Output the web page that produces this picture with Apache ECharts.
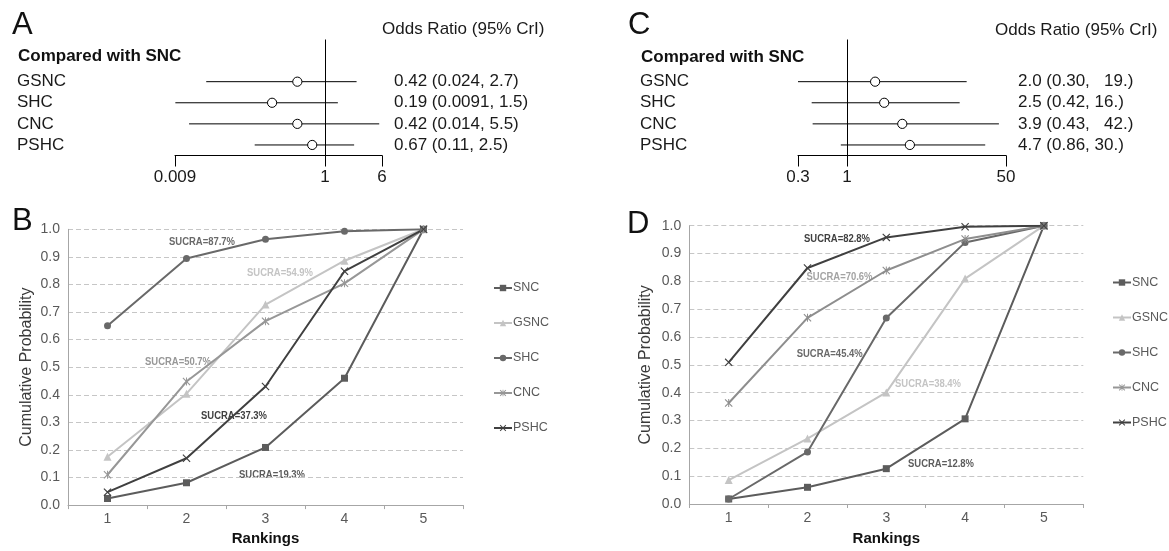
<!DOCTYPE html>
<html>
<head>
<meta charset="utf-8">
<script src="https://cdn.jsdelivr.net/npm/echarts@6/dist/echarts.min.js"></script>
<style>
html,body{margin:0;padding:0;background:#fff;}
#main{width:1169px;height:551px;}
</style>
</head>
<body>
<div id="main"></div>
<script>
// ---------- Data ----------
const forestRows = ['GSNC', 'SHC', 'CNC', 'PSHC'];
// Panel A
const aEst = [0.42, 0.19, 0.42, 0.67];
const aLo = [0.024, 0.0091, 0.014, 0.11];
const aHi = [2.7, 1.5, 5.5, 2.5];
const aText = ['0.42 (0.024, 2.7)', '0.19 (0.0091, 1.5)', '0.42 (0.014, 5.5)', '0.67 (0.11, 2.5)'];
const aTicks = [0.009, 1, 6];
// Panel C
const cEst = [2.0, 2.5, 3.9, 4.7];
const cLo = [0.30, 0.42, 0.43, 0.86];
const cHi = [19, 16, 42, 30];
const cText = ['2.0 (0.30,   19.)', '2.5 (0.42, 16.)', '3.9 (0.43,   42.)', '4.7 (0.86, 30.)'];
const cTicks = [0.3, 1, 50];

// Panels B and D
const ranks = ['1', '2', '3', '4', '5'];
const seriesNames = ['SNC', 'GSNC', 'SHC', 'CNC', 'PSHC'];
const bSNC = [0.024, 0.081, 0.209, 0.46, 1.0];
const bGSNC = [0.175, 0.404, 0.727, 0.886, 1.0];
const bSHC = [0.65, 0.894, 0.964, 0.993, 1.0];
const bCNC = [0.11, 0.448, 0.667, 0.804, 1.0];
const bPSHC = [0.047, 0.17, 0.43, 0.848, 1.0];
const dSNC = [0.018, 0.06, 0.127, 0.306, 1.0];
const dGSNC = [0.086, 0.235, 0.401, 0.81, 1.0];
const dSHC = [0.018, 0.187, 0.668, 0.94, 1.0];
const dCNC = [0.363, 0.669, 0.839, 0.952, 1.0];
const dPSHC = [0.509, 0.848, 0.958, 0.996, 1.0];
const bSucra = ['SUCRA=19.3%', 'SUCRA=54.9%', 'SUCRA=87.7%', 'SUCRA=50.7%', 'SUCRA=37.3%'];
const dSucra = ['SUCRA=12.8%', 'SUCRA=38.4%', 'SUCRA=45.4%', 'SUCRA=70.6%', 'SUCRA=82.8%'];

// ---------- Styles ----------
const FONT = "Arial, 'Liberation Sans', Helvetica, sans-serif";
const xPath = 'path://M0,1L1,0L5,4L9,0L10,1L6,5L10,9L9,10L5,6L1,10L0,9L4,5Z';
const astPath = 'path://M0,1L1,0L5,4L9,0L10,1L6,5L10,9L9,10L5,6L1,10L0,9L4,5ZM4.4,0L5.6,0L5.6,10L4.4,10Z';
const sStyle = {
  SNC:  {color: '#5c5c5c', symbol: 'rect', size: 7},
  GSNC: {color: '#c4c4c4', symbol: 'triangle', size: 8},
  SHC:  {color: '#696969', symbol: 'circle', size: 7},
  CNC:  {color: '#979797', symbol: astPath, size: 8},
  PSHC: {color: '#404040', symbol: xPath, size: 8}
};
const dCNCColor = '#8e8e8e';

const log10 = Math.log10;
function fmtTick(v) { return String(+Math.pow(10, v).toPrecision(3)); }

function forestSeries(gridIdx, est, lo, hi, text) {
  const data = est.map((e, i) => [log10(e), i + 1, log10(lo[i]), log10(hi[i]), i]);
  return {
    type: 'custom',
    name: 'forest' + gridIdx,
    xAxisIndex: gridIdx, yAxisIndex: gridIdx,
    clip: false,
    silent: true,
    data: data,
    encode: {x: 0, y: 1},
    renderItem: function (params, api) {
      const p0 = api.coord([api.value(2), api.value(1)]);
      const p1 = api.coord([api.value(3), api.value(1)]);
      const pe = api.coord([api.value(0), api.value(1)]);
      const idx = api.value(4);
      const cs = params.coordSys;
      return {
        type: 'group',
        children: [
          {type: 'line', shape: {x1: p0[0], y1: p0[1], x2: p1[0], y2: p1[1]},
           style: {stroke: '#000', lineWidth: 1}},
          {type: 'circle', shape: {cx: pe[0], cy: pe[1], r: 4.6},
           style: {fill: '#fff', stroke: '#000', lineWidth: 1}},
          {type: 'text', x: cs.x - 158, y: pe[1],
           style: {text: forestRows[idx], fill: '#1a1a1a', font: '17px ' + FONT, verticalAlign: 'middle', align: 'left'}},
          {type: 'text', x: cs.x + cs.width + 12, y: pe[1],
           style: {text: text[idx], fill: '#1a1a1a', font: '17px ' + FONT, verticalAlign: 'middle', align: 'left'}}
        ]
      };
    },
    markLine: {
      silent: true, symbol: 'none', animation: false,
      label: {show: false},
      lineStyle: {color: '#000', width: 1, type: 'solid'},
      data: [{xAxis: 0}]
    }
  };
}

function forestX(gridIdx, ticks) {
  const cv = ticks.map(log10);
  return {
    type: 'value', gridIndex: gridIdx, position: 'bottom',
    min: cv[0], max: cv[cv.length - 1],
    axisLine: {show: true, onZero: false, lineStyle: {color: '#000', width: 1}},
    axisTick: {show: true, customValues: cv, length: 11, lineStyle: {color: '#000', width: 1}},
    axisLabel: {show: true, customValues: cv, formatter: fmtTick, fontSize: 17, fontFamily: FONT, color: '#1a1a1a', margin: 13},
    splitLine: {show: false}
  };
}
function forestY(gridIdx) {
  return {type: 'value', gridIndex: gridIdx, inverse: true, min: -1, max: 4.5, show: false};
}

function rankX(gridIdx, gap, margin) {
  return {
    type: 'category', gridIndex: gridIdx, data: ranks, boundaryGap: true,
    axisLine: {show: true, lineStyle: {color: '#a6a6a6', width: 1}},
    axisTick: {show: true, length: 4, lineStyle: {color: '#a6a6a6'}},
    axisLabel: {fontSize: 14, fontFamily: FONT, color: '#595959', margin: margin},
    name: 'Rankings', nameLocation: 'middle', nameGap: gap,
    nameTextStyle: {fontSize: 15, fontWeight: 'bold', fontFamily: FONT, color: '#111'}
  };
}
function rankY(gridIdx, gap) {
  return {
    type: 'value', gridIndex: gridIdx, min: 0, max: 1, interval: 0.1,
    axisLine: {show: true, lineStyle: {color: '#a6a6a6', width: 1}},
    axisTick: {show: false},
    axisLabel: {fontSize: 14, fontFamily: FONT, color: '#595959', margin: 8, formatter: v => v.toFixed(1)},
    splitLine: {show: true, lineStyle: {color: '#c6c6c6', type: [5, 3], width: 1}},
    name: 'Cumulative Probability', nameLocation: 'middle', nameGap: gap,
    nameTextStyle: {fontSize: 16, fontFamily: FONT, color: '#3a3a3a'}
  };
}

function rankSeries(gridIdx, name, values, colorOverride) {
  const st = sStyle[name];
  const c = colorOverride || st.color;
  return {
    type: 'line', name: name, xAxisIndex: gridIdx, yAxisIndex: gridIdx,
    data: values, symbol: st.symbol, symbolSize: st.size, showSymbol: true,
    lineStyle: {color: c, width: 2}, itemStyle: {color: c},
    silent: true, animation: false, emphasis: {disabled: true}
  };
}

function legendAt(left, top) {
  return {
    orient: 'vertical', left: left, top: top, data: seriesNames, padding: 0,
    itemWidth: 18, itemHeight: 8, itemGap: 21,
    selectedMode: false,
    textStyle: {fontSize: 12.5, fontFamily: FONT, color: '#595959', lineHeight: 14, padding: [0, 0, 0, -4]}
  };
}

function txt(text, x, y, font, color, align, sx) {
  return {type: 'text', x: x, y: y, silent: true, scaleX: sx || 1,
    style: {text: text, font: font, fill: color, align: align || 'left', verticalAlign: 'middle'}};
}
const sucFont = 'bold 11px ' + FONT;
const SX = 0.86;

const option = {
  animation: false,
  backgroundColor: '#fff',
  grid: [
    {left: 175, top: 39.5, width: 207, height: 116},
    {left: 798, top: 39.5, width: 208, height: 116},
    {left: 68, top: 229.3, width: 395, height: 280.7},
    {left: 689.3, top: 225.7, width: 394, height: 280}
  ],
  xAxis: [forestX(0, aTicks), forestX(1, cTicks), rankX(2, 25, 7), rankX(3, 27, 7)],
  yAxis: [forestY(0), forestY(1), rankY(2, 33), rankY(3, 36)],
  legend: [legendAt(493, 281), legendAt(1112, 275.5)],
  series: [
    forestSeries(0, aEst, aLo, aHi, aText),
    forestSeries(1, cEst, cLo, cHi, cText),
    rankSeries(2, 'SNC', bSNC), rankSeries(2, 'GSNC', bGSNC), rankSeries(2, 'SHC', bSHC),
    rankSeries(2, 'CNC', bCNC), rankSeries(2, 'PSHC', bPSHC),
    rankSeries(3, 'SNC', dSNC), rankSeries(3, 'GSNC', dGSNC), rankSeries(3, 'SHC', dSHC),
    rankSeries(3, 'CNC', dCNC, dCNCColor), rankSeries(3, 'PSHC', dPSHC)
  ],
  graphic: [
    txt('A', 12, 25, '31px ' + FONT, '#111'),
    txt('C', 628, 25.5, '31px ' + FONT, '#111'),
    txt('B', 12, 221, '31px ' + FONT, '#111'),
    txt('D', 627, 224, '31px ' + FONT, '#111'),
    txt('Compared with SNC', 18, 56, 'bold 17px ' + FONT, '#111'),
    txt('Compared with SNC', 641, 57, 'bold 17px ' + FONT, '#111'),
    txt('Odds Ratio (95% CrI)', 382, 29.5, '17px ' + FONT, '#1a1a1a'),
    txt('Odds Ratio (95% CrI)', 995, 30, '17px ' + FONT, '#1a1a1a'),
    // SUCRA annotations panel B
    txt(bSucra[2], 202, 241.5, sucFont, sStyle.SHC.color, 'center', SX),
    txt(bSucra[1], 280, 273, sucFont, '#c4c4c4', 'center', SX),
    txt(bSucra[3], 178, 362, sucFont, '#979797', 'center', SX),
    txt(bSucra[4], 234, 416, sucFont, '#404040', 'center', SX),
    txt(bSucra[0], 272, 474.5, sucFont, '#5c5c5c', 'center', SX),
    // SUCRA annotations panel D
    txt(dSucra[4], 837, 238.5, sucFont, '#404040', 'center', SX),
    txt(dSucra[3], 839.5, 276.7, sucFont, '#a3a3a3', 'center', SX),
    txt(dSucra[2], 829.7, 354.3, sucFont, '#696969', 'center', SX),
    txt(dSucra[1], 928, 384, sucFont, '#c4c4c4', 'center', SX),
    txt(dSucra[0], 941, 464, sucFont, '#5c5c5c', 'center', SX)
  ]
};

const chart = echarts.init(document.getElementById('main'), null, {renderer: 'canvas'});
chart.setOption(option);
</script>
</body>
</html>
